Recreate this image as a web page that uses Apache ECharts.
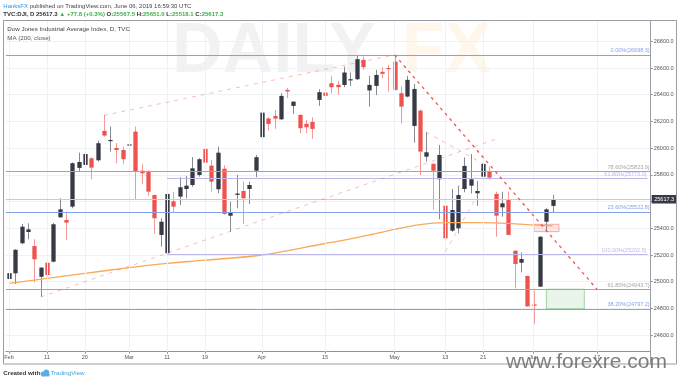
<!DOCTYPE html>
<html><head><meta charset="utf-8">
<script src="https://cdn.jsdelivr.net/npm/echarts@6/dist/echarts.min.js"></script>
<style>html,body{margin:0;padding:0;background:#fff}#c{width:680px;height:382px}</style>
</head><body><div id="c"></div>
<script>
// ---- data ----
const dates = [
 '2019-02-01','2019-02-04','2019-02-05','2019-02-06','2019-02-07','2019-02-08','2019-02-11','2019-02-12','2019-02-13','2019-02-14','2019-02-15',
 '2019-02-19','2019-02-20','2019-02-21','2019-02-22','2019-02-25','2019-02-26','2019-02-27','2019-02-28',
 '2019-03-01','2019-03-04','2019-03-05','2019-03-06','2019-03-07','2019-03-08','2019-03-11','2019-03-12','2019-03-13','2019-03-14','2019-03-15',
 '2019-03-18','2019-03-19','2019-03-20','2019-03-21','2019-03-22','2019-03-25','2019-03-26','2019-03-27','2019-03-28','2019-03-29',
 '2019-04-01','2019-04-02','2019-04-03','2019-04-04','2019-04-05','2019-04-08','2019-04-09','2019-04-10','2019-04-11','2019-04-12',
 '2019-04-15','2019-04-16','2019-04-17','2019-04-18','2019-04-22','2019-04-23','2019-04-24','2019-04-25','2019-04-26','2019-04-29','2019-04-30',
 '2019-05-01','2019-05-02','2019-05-03','2019-05-06','2019-05-07','2019-05-08','2019-05-09','2019-05-10','2019-05-13','2019-05-14','2019-05-15',
 '2019-05-16','2019-05-17','2019-05-20','2019-05-21','2019-05-22','2019-05-23','2019-05-24','2019-05-28','2019-05-29','2019-05-30','2019-05-31',
 '2019-06-03','2019-06-04','2019-06-05','2019-06-06',
 // future (empty) sessions on the time scale
 '2019-06-07','2019-06-10','2019-06-11','2019-06-12','2019-06-13','2019-06-14','2019-06-17','2019-06-18','2019-06-19','2019-06-20','2019-06-21',
 '2019-06-24','2019-06-25','2019-06-26','2019-06-27'
];
const opens = [25020,25063,25288,25372,25267,25037,25142,25150,25482,25462,25562,
 25852,25874,25924,25909,26129,26052,26001,25986,
 26019,26124,25831,25824,25649,25350,25213,25602,25637,25694,25724,
 25799,25994,25869,25692,25846,25494,25650,25679,25694,25831,
 26082,26222,26241,26216,26436,26316,26249,26182,26196,26361,
 26416,26486,26474,26473,26508,26516,26661,26432,26466,26571,26600,
 26648,26411,26386,26166,26281,25936,25882,25767,25569,25382,25400,
 25694,25719,25662,25786,25822,25657,25557,25612,25232,25142,25043,
 24830,24963,25449,25567.5];
const highs = [25192,25243,25432,25437,25318,25110,25200,25440,25625,25524,25893,
 25966,25992,25932,26056,26249,26161,26037,26010,
 26151,26161,25882,25835,25652,25475,25660,25674,25782,25792,25932,
 25925,26116,25911,26011,25872,25599,25799,25749,25749,25949,
 26286,26231,26286,26411,26450,26350,26252,26211,26231,26441,
 26436,26541,26505,26610,26566,26695,26686,26541,26586,26606,26623,
 26698,26461,26541,26481,26290,26119,25890,26024,25575,25694,25719,
 25930,25956,25754,25890,25857,25674,25674,25674,25235,25220,25045,
 24933,25340,25550,25651.0];
const lows = [24985,24983,25280,25318,24995,24888,25013,25145,25480,25312,25550,
 25824,25857,25767,25900,26086,25974,25887,25880,
 25924,25617,25732,25642,25357,25262,25208,25522,25574,25625,25710,
 25786,25824,25674,25662,25502,25375,25550,25432,25582,25782,
 26075,26131,26144,26210,26374,26256,26112,26112,26069,26316,
 26336,26411,26398,26456,26466,26510,26586,26311,26398,26523,26423,
 26430,26186,26380,26041,25799,25899,25540,25467,25225,25374,25363,
 25670,25660,25567,25780,25762,25337,25487,25350,24950,25070,24813,
 24683,24960,25374,25518.1];
const closes = [25064,25239,25412,25392,25168,25105,25050,25430,25542,25442,25887,
 25896,25956,25854,26037,26094,26061,25986,25917,
 26028,25824,25812,25674,25475,25449,25657,25562,25707,25719,25849,
 25917,25891,25749,25966,25507,25522,25660,25625,25724,25932,
 26266,26181,26221,26391,26424,26348,26149,26156,26144,26419,
 26391,26456,26456,26566,26516,26666,26606,26473,26548,26556,26593,
 26436,26311,26511,26443,25974,25969,25831,25949,25325,25537,25649,
 25867,25767,25679,25882,25779,25494,25587,25350,25133,25170,24815,
 24820,25337,25542,25617.3];

// 200-day moving average, read at a few sessions
const maDates  = ['2019-02-01','2019-02-11','2019-02-20','2019-03-01','2019-03-11','2019-03-19','2019-04-01','2019-04-15','2019-04-18','2019-04-25','2019-05-01','2019-05-07','2019-05-13','2019-05-21','2019-05-28','2019-06-03','2019-06-06'];
const maValues = [24987,25025,25062,25105,25137,25161,25200,25286,25312,25350,25391,25428,25442,25443,25437,25425,25417];

// time-axis tick labels
const tickDates  = ['2019-02-01','2019-02-11','2019-02-20','2019-03-01','2019-03-11','2019-03-19','2019-04-01','2019-04-15','2019-05-01','2019-05-13','2019-05-21','2019-06-03','2019-06-17'];
const tickLabels = ['Feb','11','20','Mar','11','19','Apr','15','May','13','21','Jun','17'];

// fibonacci levels
const fibFull = [26698.3, 25823.9, 25522.8, 24943.7, 24797.2];
const fibFullLabels = ['0.00%(26698.3)','78.60%(25823.9)','23.60%(25522.8)','61.80%(24943.7)','38.20%(24797.2)'];
const fibFullKinds = ['blue','gray','blue','gray','blue'];
const fibPart = [25773.0, 25202.5];
const fibPartLabels = ['61.80%(25773.0)','100.00%(25202.5)'];
const fibPartStart = '2019-03-11';
const lastPrice = 25617.3;

// drawn trend lines: [startDate, startValue, endDate, endValue]
const mainTrend = ['2019-05-01', 26698.3, '2019-06-17', 24943.7];
const faintLines = [
  ['2019-02-25', 26245, '2019-05-01', 26698.3],
  ['2019-02-08', 24885, '2019-05-23', 26067],
  ['2019-05-08', 26119, '2019-05-22', 25857],
  ['2019-05-13', 25225, '2019-05-20', 25640]
];
// boxes: [startDate, endDate, top, bottom]
const redBox   = ['2019-06-03', '2019-06-07', 25430, 25375];
const greenBox = ['2019-06-05', '2019-06-13', 24943.7, 24797.2];

// ---- chart ----
const FONT = 'Liberation Sans, Arial, sans-serif';
const tickMap = {}; tickDates.forEach((d,k)=>tickMap[d]=tickLabels[k]);
const C = {blue:'#86a2e6', gray:'#a3a5ab', purple:'#bdb8ea'};
const candleData = opens.map((o,i)=>[i, o, closes[i], lows[i], highs[i]]);

const chart = echarts.init(document.getElementById('c'), null, {renderer:'canvas'});

const fibLineData = fibFull.map((v,k)=>({
  yAxis: v,
  lineStyle:{color:C[fibFullKinds[k]], width:1, type:'solid'},
  label:{show:true, position:'insideEndTop', formatter:fibFullLabels[k], color:C[fibFullKinds[k]], fontSize:5.5, fontFamily:FONT, distance:1}
}));
fibPart.forEach((v,k)=>{
  fibLineData.push([
    {coord:[fibPartStart, v], lineStyle:{color:C.purple, width:1, type:'solid'},
     label:{show:true, position:'insideEndTop', formatter:fibPartLabels[k], color:C.purple, fontSize:5.5, fontFamily:FONT, distance:1}},
    {coord:[dates[dates.length-1], v]}
  ]);
});
fibLineData.push({
  yAxis:lastPrice, lineStyle:{color:'#c9cbd0', width:1, type:'solid'},
  label:{show:true, position:'end', formatter:String(lastPrice), color:'#fff', backgroundColor:'#363a45', padding:[1.5,2.5,1,2.5], fontSize:5.5, fontFamily:FONT, distance:1}
});
fibLineData.push([
  {coord:[mainTrend[0], mainTrend[1]], lineStyle:{color:'#ef5350', width:1.3, type:[3,4]}, label:{show:false}},
  {coord:[mainTrend[2], mainTrend[3]]}
]);
faintLines.forEach(l=>{
  fibLineData.push([
    {coord:[l[0], l[1]], lineStyle:{color:'rgba(239,83,80,0.38)', width:1, type:[4,5]}, label:{show:false}},
    {coord:[l[2], l[3]]}
  ]);
});

const option = {
  animation:false,
  backgroundColor:'#fff',
  grid:{left:5.84, right:29.3, top:20.7, bottom:30.3, containLabel:false, outerBoundsMode:'none'},
  xAxis:{
    type:'category', data:dates, boundaryGap:true,
    axisLine:{show:true, lineStyle:{color:'#8e9199', width:1}},
    axisTick:{show:true, alignWithLabel:true, length:2, interval:(i,v)=>v in tickMap, lineStyle:{color:'#8e9199'}},
    axisLabel:{interval:(i,v)=>v in tickMap, formatter:v=>tickMap[v]||'', fontSize:5.5, color:'#555', margin:3, fontFamily:FONT, hideOverlap:false},
    splitLine:{show:false}
  },
  yAxis:{
    type:'value', position:'right', min:24476, max:26954, splitNumber:12,
    axisLine:{show:true, lineStyle:{color:'#8e9199', width:1}},
    axisTick:{show:true, length:2, lineStyle:{color:'#8e9199'}},
    axisLabel:{fontSize:5.5, color:'#555', margin:3, fontFamily:FONT, showMinLabel:false, showMaxLabel:false,
      formatter:v=>(Math.abs(v-25600)<1 || v%200!==0)?'':v.toFixed(1)},
    splitLine:{show:true, lineStyle:{color:'#eef1f6', width:1}}
  },
  series:[
    { // vertical time grid lines
      type:'line', data:[], z:1, silent:true,
      markLine:{silent:true, symbol:['none','none'], animation:false, label:{show:false},
        lineStyle:{color:'#eef1f6', width:1, type:'solid'},
        data:tickDates.map(d=>({xAxis:d}))}
    },
    {
      type:'custom', name:'DJI', z:2,
      encode:{x:0, y:[1,2,3,4]},
      data:candleData,
      renderItem:function(params, api){
        const i = api.value(0), o = api.value(1), c = api.value(2), l = api.value(3), h = api.value(4);
        const po = api.coord([i,o]), pc = api.coord([i,c]), pl = api.coord([i,l]), ph = api.coord([i,h]);
        const up = c >= o;
        const cx = Math.round(po[0]) + 0.5;
        const bw = 4.3;
        const top = Math.min(po[1], pc[1]);
        const bh = Math.max(Math.abs(po[1]-pc[1]), 1.2);
        return {type:'group', children:[
          {type:'line', shape:{x1:cx, y1:ph[1], x2:cx, y2:pl[1]}, style:{stroke: up?'#868892':'#f39a98', lineWidth:1}},
          {type:'rect', shape:{x:cx-bw/2, y:top, width:bw, height:bh}, style:{fill: up?'#363a45':'#ef5350', stroke:null}}
        ]};
      }
    },
    {
      type:'line', name:'MA', z:3, smooth:0.35, showSymbol:false, silent:true,
      data:maDates.map((d,k)=>[d, maValues[k]]),
      lineStyle:{color:'#f8a95a', width:1.3},
      markArea:{silent:true, label:{show:false}, data:[
        [{coord:[redBox[0], redBox[2]], itemStyle:{color:'rgba(239,83,80,0.13)', borderColor:'rgba(239,83,80,0.45)', borderWidth:1}},
         {coord:[redBox[1], redBox[3]]}],
        [{coord:[greenBox[0], greenBox[2]], itemStyle:{color:'rgba(76,175,80,0.12)', borderColor:'rgba(76,175,80,0.5)', borderWidth:1}},
         {coord:[greenBox[1], greenBox[3]]}]
      ]}
    },
    {
      type:'line', data:[], z:4, silent:true,
      markLine:{silent:true, symbol:['none','none'], animation:false, data:fibLineData}
    }
  ],
  graphic:[
    {type:'text', z:0, x:172, y:18, silent:true, style:{text:'DAILY', font:'bold 70px '+FONT, fill:'rgba(0,0,0,0.05)'}},
    {type:'text', z:0, x:402, y:18, silent:true, style:{text:'FX', font:'bold 70px '+FONT, fill:'rgba(255,150,40,0.09)'}},
    {type:'rect', z:10, silent:true, shape:{x:3.5, y:20.5, width:673, height:343.5}, style:{fill:null, stroke:'#9a9da5', lineWidth:1}},
    {type:'line', z:10, silent:true, shape:{x1:650.5, y1:20.5, x2:650.5, y2:364}, style:{stroke:'#9a9da5', lineWidth:1}},
    {type:'text', z:10, x:3.3, y:6, silent:true, style:{text:'{a|HanksFX} published on TradingView.com, June 06, 2019 16:59:30 UTC', rich:{a:{fill:'#2196f3', font:'6px '+FONT}}, font:'6px '+FONT, fill:'#444', verticalAlign:'middle'}},
    {type:'text', z:10, x:3.3, y:14.8, silent:true, style:{
      text:'TVC:DJI, D 25617.3 {g|▲ +77.8 (+0.3%)} O:{g|25567.5} H:{g|25651.0} L:{g|25518.1} C:{g|25617.3}',
      rich:{g:{fill:'#3fae49', font:'bold 6px '+FONT}}, font:'bold 6px '+FONT, fill:'#333', verticalAlign:'middle'}},
    {type:'text', z:10, x:7.3, y:29.3, silent:true, style:{text:'Dow Jones Industrial Average Index, D, TVC', font:'6.2px '+FONT, fill:'#444', verticalAlign:'middle'}},
    {type:'text', z:10, x:7.3, y:38.3, silent:true, style:{text:'MA (200, close)', font:'6.2px '+FONT, fill:'#555', verticalAlign:'middle'}},
    {type:'text', z:10, x:3.3, y:373.3, silent:true, style:{text:'Created with', font:'bold 6.2px '+FONT, fill:'#333', verticalAlign:'middle'}},
    {type:'circle', z:10, silent:true, shape:{cx:43, cy:374, r:2.4}, style:{fill:'#5aaee8'}},
    {type:'circle', z:10, silent:true, shape:{cx:46.3, cy:372.3, r:2.9}, style:{fill:'#5aaee8'}},
    {type:'rect', z:10, silent:true, shape:{x:42, y:373.4, width:7.5, height:3}, style:{fill:'#5aaee8'}},
    {type:'text', z:10, x:50.5, y:373.3, silent:true, style:{text:'TradingView', font:'6.2px '+FONT, fill:'#3f9fe0', verticalAlign:'middle'}},
    {type:'text', z:20, x:506, y:352, silent:true, style:{text:'www.forexre.com', font:'21px '+FONT, fill:'rgba(105,105,105,0.85)'}}
  ]
};
chart.setOption(option);
</script>
</body></html>
